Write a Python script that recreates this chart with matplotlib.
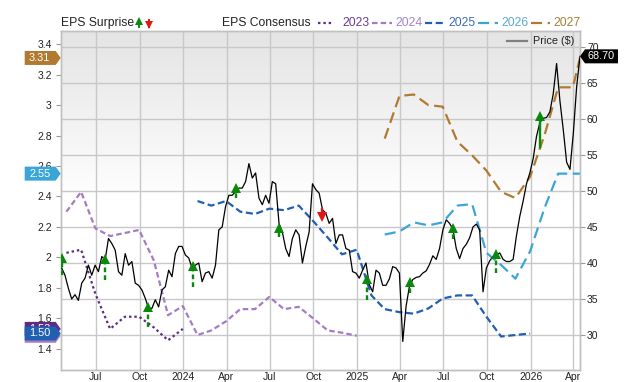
import numpy as np
import pandas as pd
import matplotlib
matplotlib.use('Agg')
import matplotlib.pyplot as plt
import matplotlib.dates as mdates
from matplotlib.patches import Polygon
from matplotlib.lines import Line2D
from matplotlib.transforms import IdentityTransform, blended_transform_factory

plt.rcParams['font.family'] = ['Liberation Sans', 'DejaVu Sans']

# ---- data ----
# weekly share price ($)
price_start, price_end = '2023-04-20', '2026-04-15'
price = [39.3, 38.3, 36.5, 35.0, 35.6, 34.8, 37.2, 37.9, 39.7, 38.3,
         39.7, 38.8, 40.9, 40.4, 43.4, 42.7, 41.8, 38.8, 38.3, 41.3,
         39.7, 40.2, 37.2, 36.9, 36.25, 35.1, 33.7, 33.7, 34.9, 33.9,
         36.25, 36.7, 39.0, 38.1, 41.3, 42.3, 42.3, 41.1, 40.7, 39.3,
         39.7, 40.0, 37.4, 38.6, 38.8, 37.9, 39.7, 44.6, 45.0, 47.8,
         49.4, 49.4, 49.9, 50.4, 50.4, 51.3, 53.8, 51.8, 52.5, 49.0,
         48.1, 49.4, 48.3, 51.3, 51.0, 45.5, 44.3, 42.0, 40.9, 43.4,
         44.6, 43.9, 40.0, 42.3, 44.3, 51.0, 50.2, 49.7, 47.4, 46.9,
         45.5, 46.2, 42.7, 43.9, 43.9, 42.0, 41.8, 38.8, 38.6, 37.9,
         39.0, 40.0, 37.0, 36.0, 39.0, 38.6, 36.9, 36.9, 37.8, 39.5,
         39.3, 38.6, 29.1, 34.0, 36.8, 37.7, 38.0, 38.1, 38.6, 38.9,
         39.8, 41.0, 40.5, 42.0, 44.6, 46.0, 45.5, 44.7, 42.0, 40.6,
         42.0, 42.6, 43.5, 45.0, 45.4, 44.6, 36.0, 39.3, 40.3, 40.9,
         41.1, 41.4, 40.5, 40.2, 40.2, 40.5, 43.8, 46.5, 48.6, 51.0,
         52.5, 54.5, 57.6, 59.5, 60.1, 60.2, 61.0, 63.5, 67.7, 62.5,
         58.5, 54.0, 53.0, 58.0, 64.5, 68.7]
price_last = '68.70'

# monthly EPS consensus per fiscal year
eps_2023_start = '2023-04-30'
eps_2023 = [2.03, 2.05, 1.76, 1.53, 1.61, 1.61, 1.54, 1.455, 1.53]
eps_2024_start = '2023-04-30'
eps_2024 = [2.30, 2.43, 2.19, 2.14, 2.16, 2.18, 1.98, 1.62, 1.68,
            1.49, 1.52, 1.58, 1.66, 1.66, 1.74, 1.66, 1.675, 1.60, 1.52, 1.505, 1.485]
eps_2025_start = '2024-01-31'
eps_2025 = [2.37, 2.34, 2.37, 2.30, 2.285, 2.32, 2.31, 2.34, 2.24, 2.13, 2.02, 2.05,
            1.75, 1.66, 1.64, 1.63, 1.665, 1.73, 1.75, 1.75, 1.61, 1.48, 1.49, 1.50]
eps_2026_start = '2025-02-28'
eps_2026 = [2.15, 2.17, 2.23, 2.21, 2.23, 2.34, 2.35, 2.03, 1.95, 1.86, 2.04, 2.33, 2.55, 2.55]
eps_2027_start = '2025-02-28'
eps_2027 = [2.78, 3.06, 3.07, 3.00, 2.99, 2.76, 2.67, 2.57, 2.43, 2.39, 2.53, 2.81, 3.117, 3.117]
eps_current_date = '2026-04-15'
eps_2026_now = 2.55
eps_2027_now = 3.31

years = ['2023', '2024', '2025', '2026', '2027']
line_colors = ['#5c2d82', '#a47cc4', '#2160b0', '#3aa6d8', '#b07a30']
text_colors = ['#6a3d8f', '#a585c8', '#3a6db5', '#5fa8d3', '#a87d3a']
dash_styles = [(0, (1.1, 1.3)), (0, (2.5, 1.4)), (0, (3.2, 1.6)), (0, (5, 2.5)), (0, (5, 2.5))]
tag_values = [1.53, 1.485, 1.50, 2.55, 3.31]  # last values shown as tags on left

# EPS surprise arrows (drawn on price scale)
surprise_dates = ['2023-04-20', '2023-07-20', '2023-10-18', '2024-01-22', '2024-04-22', '2024-07-21',
                  '2024-10-20', '2025-01-21', '2025-04-22', '2025-07-21', '2025-10-21', '2026-01-21']
surprise_from = [38.3, 37.6, 31.15, 36.7, 49.0, 43.6, 47.6, 34.9, 35.9, 43.4, 38.6, 56.15]
surprise_to = [40.7, 40.55, 33.9, 39.6, 50.4, 44.9, 46.4, 37.8, 37.4, 44.9, 41.25, 60.4]

xtick_dates = ['2023-07-01', '2023-10-01', '2024-01-01', '2024-04-01', '2024-07-01', '2024-10-01',
               '2025-01-01', '2025-04-01', '2025-07-01', '2025-10-01', '2026-01-01', '2026-04-01']
xtick_labels = ['Jul', 'Oct', '2024', 'Apr', 'Jul', 'Oct', '2025', 'Apr', 'Jul', 'Oct', '2026', 'Apr']
eps_ticks = [1.4, 1.6, 1.8, 2.0, 2.2, 2.4, 2.6, 2.8, 3.0, 3.2, 3.4]
eps_ticklabels = ['1.4', '1.6', '1.8', '2', '2.2', '2.4', '2.6', '2.8', '3', '3.2', '3.4']
price_ticks = [30, 35, 40, 45, 50, 55, 60, 65, 70]


def monthly(start, vals, extra=None):
    d = list(pd.date_range(start, periods=len(vals), freq='ME'))
    v = list(vals)
    if extra is not None:
        d.append(pd.Timestamp(eps_current_date))
        v.append(extra)
    return mdates.date2num(pd.DatetimeIndex(d).to_pydatetime()), v


W, H = 640, 382
fig = plt.figure(figsize=(W / 100, H / 100), dpi=100)
L, R, T, B = 60.7, 580, 30.7, 369.7
ax = fig.add_axes([L / W, 1 - B / H, (R - L) / W, (B - T) / H])
ax2 = ax.twinx()

x0 = mdates.date2num(pd.Timestamp('2023-04-18'))
x1 = mdates.date2num(pd.Timestamp('2026-04-15'))

# background gradient
t = np.linspace(0, 1, 256)
g = 0.895 + 0.105 * np.clip(t / 0.5, 0, 1)
grad = np.dstack([g, g, g]).reshape(256, 1, 3)
ax.imshow(grad, extent=[0, 1, 0, 1], transform=ax.transAxes, aspect='auto', zorder=0)

ax.set_xlim(x0, x1)
ax.set_ylim(1.262, 3.489)
ax2.set_ylim(25.18, 72.26)

# grid
grid_c = '#c8c8c8'
for xd in xtick_dates:
    ax.axvline(mdates.date2num(pd.Timestamp(xd)), color=grid_c, lw=1, zorder=1)
gtr = blended_transform_factory(ax.transAxes, ax2.transData)
for p in price_ticks:
    ax.plot([0, 1], [p, p], transform=gtr, color=grid_c, lw=1, zorder=1)

# EPS lines
series = [monthly(eps_2023_start, eps_2023), monthly(eps_2024_start, eps_2024),
          monthly(eps_2025_start, eps_2025), monthly(eps_2026_start, eps_2026, eps_2026_now),
          monthly(eps_2027_start, eps_2027, eps_2027_now)]
for (xs, vs), c, ls in zip(series, line_colors, dash_styles):
    ax.plot(xs, vs, color=c, lw=1.6, linestyle=ls, zorder=3)

# price
pdates = pd.date_range(price_start, price_end, periods=len(price))
ax2.plot(mdates.date2num(pdates.to_pydatetime()), price, color='black', lw=0.9, zorder=3)

# surprise arrows
for d, a, b in zip(surprise_dates, surprise_from, surprise_to):
    xd = mdates.date2num(pd.Timestamp(d))
    up = b > a
    col = '#0a8a0a' if up else '#e01818'
    solid = (b - a) > 3
    ax2.plot([xd, xd], [a, b], color=col, lw=1.7,
             linestyle='-' if solid else (0, (2, 1.3)), zorder=4)
    ax2.plot(xd, b, marker='^' if up else 'v', color=col, markersize=6.5, zorder=5,
             markeredgewidth=0)

# axes styling
for a_ in (ax, ax2):
    for s in a_.spines.values():
        s.set_color('#c0c0c0')
        s.set_linewidth(1)
ax.set_xticks([mdates.date2num(pd.Timestamp(d)) for d in xtick_dates])
ax.set_xticklabels(xtick_labels)
ax.tick_params(axis='x', length=0, pad=1.5, labelsize=7.5, labelcolor='#222222')
ax.set_yticks(eps_ticks)
ax.set_yticklabels(eps_ticklabels)
ax.tick_params(axis='y', length=3.5, width=0.8, color='#999999', pad=3, labelsize=7.5,
               labelcolor='#222222')
ax2.set_yticks(price_ticks)
ax2.tick_params(axis='y', length=3.5, width=0.8, color='#999999', pad=1.5, labelsize=7.5,
                labelcolor='#222222')
ax.set_xlim(x0, x1)

# price legend inside plot
fig.add_artist(Line2D([507, 527], [H - 41.3, H - 41.3], transform=IdentityTransform(),
                      color='#808080', lw=1.6))
fig.text(533, H - 41.3, 'Price ($)', transform=IdentityTransform(), va='center', ha='left',
         fontsize=7.8, color='#222222')

# top legend
fig.text(60.7, H - 23, 'EPS Surprise', transform=IdentityTransform(), va='center', ha='left',
         fontsize=8.7, color='#222222')
for xa, up, col in [(139, True, '#0a8a0a'), (148.5, False, '#e01818')]:
    yb, yt = H - 27, H - 19.5
    fig.add_artist(Line2D([xa, xa], [yb, yt], transform=IdentityTransform(), color=col, lw=1.4))
    fig.add_artist(Line2D([xa], [yt - 1.8 if up else yb + 1.8], transform=IdentityTransform(),
                          color=col, marker='^' if up else 'v', markersize=5.5, markeredgewidth=0))
fig.text(222, H - 23, 'EPS Consensus', transform=IdentityTransform(), va='center', ha='left',
         fontsize=8.7, color='#222222')
leg_x = [(318, 334, 342), (372, 392, 395), (425, 445, 448), (478, 498, 501), (531, 550, 553)]
for (la, lb, tx), yr, lc, tc, ls in zip(leg_x, years, line_colors, text_colors, dash_styles):
    fig.add_artist(Line2D([la, lb], [H - 23, H - 23], transform=IdentityTransform(), color=lc,
                          lw=1.6, linestyle=ls))
    fig.text(tx, H - 23, yr, transform=IdentityTransform(), va='center', ha='left',
             fontsize=8.7, color=tc)

# value tags
def tag(yd, tip, text, color, side, z):
    h = 7
    if side == 'left':
        xs = [tip - 36, tip - 5, tip, tip - 5, tip - 36]
        tx = tip - 21
    else:
        xs = [tip + 38, tip + 5, tip, tip + 5, tip + 38]
        tx = tip + 21.5
    ys = [yd - h, yd - h, yd, yd + h, yd + h]
    fig.add_artist(Polygon(np.column_stack([xs, ys]), closed=True, transform=IdentityTransform(),
                           facecolor=color, edgecolor='none', zorder=z))
    fig.text(tx, yd, text, transform=IdentityTransform(), va='center', ha='center',
             fontsize=7.8, color='white', zorder=z + 0.5)


ltr = blended_transform_factory(ax.transAxes, ax.transData)
order = [1, 0, 2, 3, 4]
for k, i in enumerate(order):
    xd, yd = ltr.transform((0, tag_values[i]))
    tag(yd, xd, '%.2f' % tag_values[i], line_colors[i], 'left', 10 + k)
rtr = blended_transform_factory(ax2.transAxes, ax2.transData)
xd, yd = rtr.transform((1, float(price_last)))
tag(yd, xd, price_last, 'black', 'right', 20)

fig.savefig('out.png', dpi=100)
